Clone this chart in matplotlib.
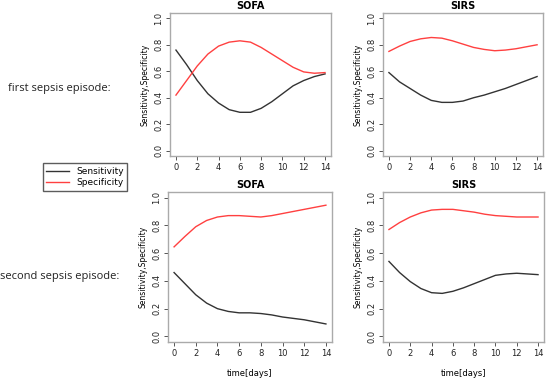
import matplotlib
matplotlib.use("Agg")
import matplotlib.pyplot as plt
import numpy as np

days = np.arange(0, 15)

# first sepsis episode
sofa1_sens = [0.76, 0.65, 0.53, 0.43, 0.36, 0.31, 0.29, 0.29, 0.32, 0.37, 0.43, 0.49, 0.53, 0.56, 0.58]
sofa1_spec = [0.42, 0.53, 0.64, 0.73, 0.79, 0.82, 0.83, 0.82, 0.78, 0.73, 0.68, 0.63, 0.595, 0.585, 0.59]
sirs1_sens = [0.59, 0.52, 0.47, 0.42, 0.38, 0.365, 0.365, 0.375, 0.40, 0.42, 0.445, 0.47, 0.50, 0.53, 0.56]
sirs1_spec = [0.75, 0.79, 0.825, 0.845, 0.855, 0.85, 0.83, 0.805, 0.78, 0.765, 0.755, 0.76, 0.77, 0.785, 0.80]

# second sepsis episode
sofa2_sens = [0.46, 0.38, 0.30, 0.24, 0.20, 0.18, 0.17, 0.17, 0.165, 0.155, 0.14, 0.13, 0.12, 0.105, 0.09]
sofa2_spec = [0.645, 0.72, 0.79, 0.835, 0.86, 0.87, 0.87, 0.865, 0.86, 0.87, 0.885, 0.90, 0.915, 0.93, 0.945]
sirs2_sens = [0.54, 0.46, 0.395, 0.345, 0.315, 0.31, 0.325, 0.35, 0.38, 0.41, 0.44, 0.45, 0.455, 0.45, 0.445]
sirs2_spec = [0.77, 0.82, 0.86, 0.89, 0.91, 0.915, 0.915, 0.905, 0.895, 0.88, 0.87, 0.865, 0.86, 0.86, 0.86]

W, H = 550, 379
fig = plt.figure(figsize=(5.5, 3.79), dpi=100)


def px_axes(x0, y0, x1, y1):
    return fig.add_axes([x0 / W, 1 - y1 / H, (x1 - x0) / W, (y1 - y0) / H])


def panel(ax, title, sens, spec, xlabel=None, ylabel=True):
    ax.plot(days, sens, color="#333333", lw=1.0)
    ax.plot(days, spec, color="#ff4040", lw=1.0)
    ax.set_xlim(-0.56, 14.56)
    ax.set_ylim(-0.04, 1.04)
    ax.set_xticks(range(0, 15, 2))
    ax.set_yticks([0.0, 0.2, 0.4, 0.6, 0.8, 1.0])
    ax.set_yticklabels(["0.0", "0.2", "0.4", "0.6", "0.8", "1.0"], rotation=90, va="center")
    ax.tick_params(labelsize=6, length=3, width=0.7, color="#555555", pad=2, labelcolor="#222222")
    for s in ax.spines.values():
        s.set_color("#aaaaaa")
        s.set_linewidth(1.0)
    ax.set_title(title, fontsize=7, fontweight="bold", pad=3)
    if ylabel:
        ax.set_ylabel("Sensitivity,Specificity", fontsize=5.5, labelpad=3)
    if xlabel:
        ax.set_xlabel(xlabel, fontsize=6, labelpad=8)


ax1 = px_axes(170, 13, 331, 156)
panel(ax1, "SOFA", sofa1_sens, sofa1_spec)
ax2 = px_axes(383, 13, 543, 156)
panel(ax2, "SIRS", sirs1_sens, sirs1_spec)
ax3 = px_axes(168, 192, 332, 342)
panel(ax3, "SOFA", sofa2_sens, sofa2_spec, xlabel="time[days]")
ax4 = px_axes(383, 192, 544, 342)
panel(ax4, "SIRS", sirs2_sens, sirs2_spec, xlabel="time[days]")

fig.text(59 / W, 1 - 88 / H, "first sepsis episode:", fontsize=8, ha="center", va="center",
         family="Open Sans", color="#222222")
fig.text(60 / W, 1 - 277 / H, "second sepsis episode:", fontsize=8, ha="center", va="center",
         family="Open Sans", color="#222222")

handles = [plt.Line2D([], [], color="#333333", lw=1.0),
           plt.Line2D([], [], color="#ff4040", lw=1.0)]
fig.legend(handles, ["Sensitivity", "Specificity"], loc="center",
           bbox_to_anchor=(85 / W, 1 - 177 / H), fontsize=6.5, frameon=True, fancybox=False,
           edgecolor="#333333", handlelength=2.5, borderpad=0.4, labelspacing=0.2,
           handletextpad=0.8)

fig.savefig("out.png", dpi=100)
